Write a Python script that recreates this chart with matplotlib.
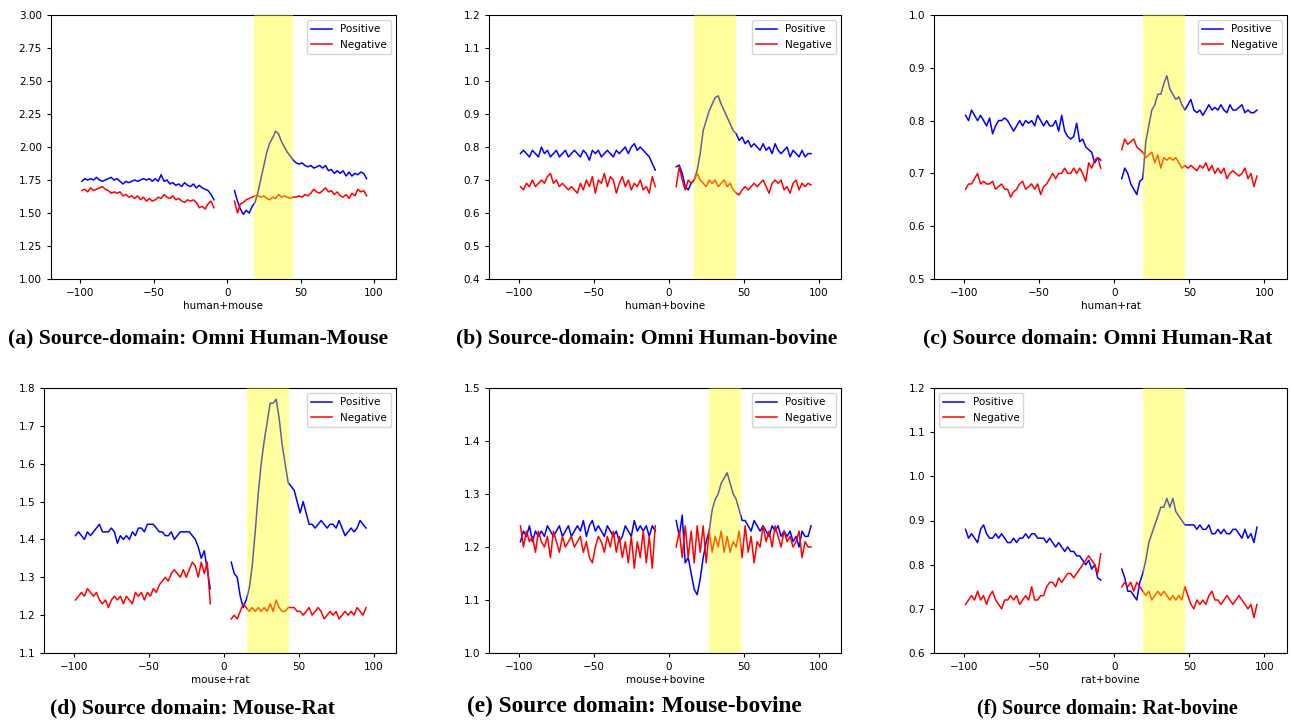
import matplotlib
matplotlib.use('Agg')
import matplotlib.pyplot as plt

# x positions (left and right flanks)
x_left = list(range(-99, -8, 2))
x_right = list(range(5, 96, 2))

# (a) human+mouse
a_pos_left = [1.74, 1.76, 1.75, 1.76, 1.75, 1.77, 1.75, 1.74, 1.75, 1.76, 1.77, 1.75, 1.76, 1.74, 1.72, 1.74,
              1.73, 1.74, 1.75, 1.74, 1.75, 1.76, 1.75, 1.76, 1.74, 1.76, 1.74, 1.79, 1.74, 1.75, 1.72, 1.73,
              1.71, 1.72, 1.70, 1.73, 1.71, 1.70, 1.72, 1.69, 1.71, 1.69, 1.68, 1.67, 1.64, 1.60]
a_neg_left = [1.67, 1.68, 1.66, 1.69, 1.67, 1.68, 1.69, 1.70, 1.68, 1.67, 1.65, 1.66, 1.65, 1.66, 1.63, 1.64,
              1.62, 1.63, 1.61, 1.63, 1.60, 1.62, 1.59, 1.61, 1.59, 1.60, 1.62, 1.61, 1.64, 1.62, 1.61, 1.63,
              1.60, 1.61, 1.59, 1.58, 1.60, 1.59, 1.60, 1.58, 1.54, 1.55, 1.53, 1.57, 1.59, 1.54]
a_pos_right = [1.67, 1.59, 1.53, 1.49, 1.52, 1.50, 1.55, 1.58, 1.66, 1.76, 1.86, 1.96, 2.03, 2.07, 2.12, 2.10,
               2.04, 2.00, 1.96, 1.93, 1.90, 1.88, 1.87, 1.88, 1.86, 1.85, 1.86, 1.84, 1.85, 1.86, 1.84, 1.86,
               1.82, 1.83, 1.80, 1.82, 1.80, 1.82, 1.78, 1.81, 1.78, 1.80, 1.79, 1.81, 1.80, 1.76]
a_neg_right = [1.59, 1.50, 1.57, 1.58, 1.60, 1.61, 1.62, 1.63, 1.63, 1.62, 1.63, 1.61, 1.60, 1.62, 1.61, 1.64,
               1.62, 1.63, 1.62, 1.61, 1.62, 1.62, 1.63, 1.62, 1.64, 1.63, 1.65, 1.68, 1.66, 1.65, 1.67, 1.69,
               1.66, 1.67, 1.64, 1.66, 1.63, 1.62, 1.64, 1.61, 1.65, 1.63, 1.68, 1.66, 1.67, 1.63]

# (b) human+bovine
b_pos_left = [0.78, 0.79, 0.78, 0.77, 0.79, 0.78, 0.77, 0.80, 0.78, 0.79, 0.77, 0.78, 0.79, 0.77, 0.78, 0.79,
              0.77, 0.78, 0.79, 0.78, 0.77, 0.79, 0.78, 0.76, 0.79, 0.78, 0.79, 0.77, 0.78, 0.79, 0.78, 0.77,
              0.79, 0.78, 0.79, 0.80, 0.78, 0.80, 0.81, 0.79, 0.80, 0.79, 0.78, 0.77, 0.75, 0.73]
b_neg_left = [0.68, 0.67, 0.69, 0.68, 0.70, 0.68, 0.69, 0.70, 0.69, 0.71, 0.72, 0.69, 0.70, 0.68, 0.69, 0.68,
              0.67, 0.68, 0.67, 0.66, 0.69, 0.67, 0.70, 0.68, 0.71, 0.66, 0.70, 0.69, 0.72, 0.68, 0.71, 0.70,
              0.66, 0.69, 0.71, 0.68, 0.70, 0.67, 0.69, 0.68, 0.70, 0.67, 0.68, 0.66, 0.71, 0.68]
b_pos_right = [0.74, 0.745, 0.72, 0.68, 0.67, 0.69, 0.70, 0.73, 0.78, 0.85, 0.88, 0.91, 0.93, 0.95, 0.955, 0.93,
               0.91, 0.89, 0.87, 0.85, 0.84, 0.82, 0.83, 0.81, 0.82, 0.80, 0.81, 0.80, 0.79, 0.81, 0.79, 0.80,
               0.78, 0.81, 0.79, 0.78, 0.79, 0.80, 0.77, 0.79, 0.78, 0.77, 0.79, 0.77, 0.78, 0.78]
b_neg_right = [0.68, 0.74, 0.70, 0.67, 0.70, 0.69, 0.70, 0.72, 0.70, 0.69, 0.68, 0.70, 0.69, 0.70, 0.68, 0.69,
               0.70, 0.68, 0.69, 0.67, 0.66, 0.655, 0.67, 0.68, 0.67, 0.68, 0.69, 0.68, 0.69, 0.70, 0.68, 0.66,
               0.69, 0.70, 0.69, 0.70, 0.67, 0.68, 0.66, 0.69, 0.70, 0.67, 0.69, 0.68, 0.69, 0.685]

# (c) human+rat
c_pos_left = [0.81, 0.80, 0.82, 0.81, 0.80, 0.81, 0.80, 0.79, 0.805, 0.775, 0.79, 0.80, 0.80, 0.805, 0.80, 0.79,
              0.78, 0.79, 0.80, 0.79, 0.80, 0.795, 0.80, 0.79, 0.81, 0.80, 0.79, 0.80, 0.79, 0.79, 0.80, 0.78,
              0.81, 0.78, 0.77, 0.765, 0.77, 0.795, 0.76, 0.765, 0.75, 0.745, 0.74, 0.72, 0.73, 0.725]
c_neg_left = [0.67, 0.68, 0.68, 0.69, 0.70, 0.68, 0.685, 0.68, 0.68, 0.685, 0.67, 0.675, 0.68, 0.67, 0.67, 0.655,
              0.665, 0.67, 0.68, 0.685, 0.67, 0.675, 0.68, 0.67, 0.68, 0.66, 0.675, 0.68, 0.69, 0.70, 0.69,
              0.70, 0.70, 0.71, 0.70, 0.70, 0.71, 0.70, 0.71, 0.70, 0.685, 0.72, 0.71, 0.725, 0.73, 0.71]
c_pos_right = [0.69, 0.71, 0.70, 0.68, 0.67, 0.66, 0.685, 0.69, 0.76, 0.79, 0.82, 0.83, 0.85, 0.85, 0.87, 0.885,
               0.86, 0.85, 0.84, 0.845, 0.83, 0.82, 0.83, 0.84, 0.82, 0.815, 0.82, 0.81, 0.82, 0.83, 0.82, 0.825,
               0.82, 0.83, 0.82, 0.815, 0.83, 0.82, 0.82, 0.825, 0.83, 0.815, 0.82, 0.815, 0.815, 0.82]
c_neg_right = [0.745, 0.765, 0.755, 0.76, 0.765, 0.75, 0.745, 0.74, 0.73, 0.735, 0.74, 0.72, 0.735, 0.71, 0.73, 0.725,
               0.73, 0.725, 0.73, 0.72, 0.71, 0.715, 0.71, 0.715, 0.71, 0.705, 0.715, 0.71, 0.72, 0.705, 0.715, 0.70,
               0.71, 0.70, 0.71, 0.69, 0.70, 0.705, 0.70, 0.695, 0.70, 0.71, 0.69, 0.70, 0.675, 0.695]

# (d) mouse+rat
d_pos_left = [1.41, 1.42, 1.41, 1.40, 1.42, 1.41, 1.42, 1.43, 1.44, 1.42, 1.42, 1.42, 1.43, 1.42, 1.39, 1.41,
              1.40, 1.41, 1.40, 1.42, 1.41, 1.43, 1.43, 1.42, 1.44, 1.44, 1.44, 1.43, 1.42, 1.42, 1.41, 1.41,
              1.42, 1.40, 1.41, 1.42, 1.42, 1.42, 1.42, 1.41, 1.40, 1.38, 1.35, 1.37, 1.32, 1.27]
d_neg_left = [1.24, 1.25, 1.26, 1.25, 1.27, 1.26, 1.25, 1.26, 1.24, 1.23, 1.24, 1.22, 1.24, 1.25, 1.24, 1.25,
              1.23, 1.25, 1.24, 1.23, 1.26, 1.25, 1.26, 1.24, 1.26, 1.25, 1.27, 1.26, 1.28, 1.29, 1.30, 1.29,
              1.31, 1.32, 1.31, 1.30, 1.32, 1.30, 1.32, 1.34, 1.33, 1.30, 1.34, 1.31, 1.34, 1.23]
d_pos_right = [1.34, 1.31, 1.30, 1.25, 1.22, 1.24, 1.27, 1.33, 1.42, 1.52, 1.60, 1.66, 1.71, 1.76, 1.76, 1.77,
               1.72, 1.65, 1.60, 1.55, 1.54, 1.53, 1.50, 1.47, 1.50, 1.47, 1.44, 1.44, 1.43, 1.44, 1.45, 1.44,
               1.43, 1.44, 1.44, 1.43, 1.45, 1.43, 1.41, 1.42, 1.43, 1.42, 1.43, 1.45, 1.44, 1.43]
d_neg_right = [1.19, 1.20, 1.19, 1.21, 1.23, 1.22, 1.21, 1.22, 1.21, 1.22, 1.21, 1.22, 1.21, 1.23, 1.21, 1.24,
               1.22, 1.21, 1.21, 1.22, 1.22, 1.22, 1.21, 1.21, 1.20, 1.21, 1.22, 1.20, 1.21, 1.22, 1.21, 1.19,
               1.20, 1.21, 1.20, 1.21, 1.19, 1.20, 1.21, 1.20, 1.21, 1.20, 1.22, 1.21, 1.20, 1.22]

# (e) mouse+bovine
e_pos_left = [1.21, 1.23, 1.22, 1.24, 1.21, 1.23, 1.22, 1.23, 1.22, 1.24, 1.23, 1.22, 1.23, 1.24, 1.22, 1.23,
              1.24, 1.22, 1.23, 1.24, 1.23, 1.25, 1.22, 1.24, 1.25, 1.23, 1.24, 1.23, 1.22, 1.24, 1.23, 1.22,
              1.23, 1.21, 1.22, 1.24, 1.23, 1.22, 1.25, 1.23, 1.24, 1.23, 1.24, 1.22, 1.24, 1.23]
e_neg_left = [1.24, 1.20, 1.23, 1.21, 1.22, 1.19, 1.23, 1.21, 1.20, 1.22, 1.18, 1.23, 1.21, 1.19, 1.22, 1.20,
              1.21, 1.22, 1.20, 1.21, 1.22, 1.19, 1.21, 1.18, 1.17, 1.20, 1.22, 1.21, 1.19, 1.22, 1.20, 1.23,
              1.19, 1.22, 1.18, 1.21, 1.17, 1.22, 1.16, 1.21, 1.18, 1.23, 1.17, 1.22, 1.16, 1.24]
e_pos_right = [1.25, 1.22, 1.26, 1.17, 1.18, 1.15, 1.12, 1.11, 1.14, 1.18, 1.21, 1.23, 1.27, 1.29, 1.30, 1.32,
               1.33, 1.34, 1.32, 1.30, 1.29, 1.27, 1.25, 1.25, 1.24, 1.23, 1.25, 1.24, 1.23, 1.24, 1.23, 1.22,
               1.24, 1.23, 1.24, 1.22, 1.23, 1.22, 1.23, 1.21, 1.22, 1.20, 1.23, 1.22, 1.22, 1.24]
e_neg_right = [1.20, 1.23, 1.18, 1.24, 1.18, 1.23, 1.17, 1.24, 1.19, 1.24, 1.17, 1.23, 1.19, 1.22, 1.20, 1.23,
               1.19, 1.22, 1.19, 1.21, 1.20, 1.23, 1.18, 1.24, 1.19, 1.22, 1.17, 1.21, 1.20, 1.24, 1.21, 1.23,
               1.20, 1.24, 1.22, 1.20, 1.23, 1.21, 1.22, 1.20, 1.21, 1.23, 1.18, 1.21, 1.20, 1.20]

# (f) rat+bovine
f_pos_left = [0.88, 0.86, 0.87, 0.86, 0.85, 0.88, 0.89, 0.87, 0.86, 0.86, 0.87, 0.86, 0.87, 0.86, 0.85, 0.85,
              0.86, 0.85, 0.86, 0.86, 0.87, 0.86, 0.87, 0.87, 0.86, 0.86, 0.86, 0.85, 0.86, 0.85, 0.84, 0.85,
              0.84, 0.83, 0.84, 0.83, 0.83, 0.82, 0.82, 0.81, 0.80, 0.81, 0.79, 0.80, 0.77, 0.765]
f_neg_left = [0.71, 0.72, 0.73, 0.72, 0.74, 0.72, 0.73, 0.71, 0.73, 0.74, 0.72, 0.71, 0.70, 0.72, 0.72, 0.73,
              0.72, 0.73, 0.71, 0.72, 0.73, 0.72, 0.75, 0.72, 0.72, 0.73, 0.73, 0.75, 0.76, 0.76, 0.75, 0.77,
              0.76, 0.77, 0.78, 0.78, 0.77, 0.78, 0.79, 0.80, 0.81, 0.82, 0.81, 0.80, 0.78, 0.825]
f_pos_right = [0.79, 0.77, 0.74, 0.74, 0.73, 0.72, 0.76, 0.78, 0.81, 0.85, 0.87, 0.89, 0.91, 0.93, 0.93, 0.95,
               0.93, 0.95, 0.92, 0.91, 0.90, 0.89, 0.89, 0.89, 0.89, 0.88, 0.89, 0.88, 0.88, 0.89, 0.87, 0.87,
               0.88, 0.87, 0.88, 0.87, 0.87, 0.88, 0.88, 0.87, 0.86, 0.88, 0.86, 0.87, 0.85, 0.885]
f_neg_right = [0.75, 0.76, 0.75, 0.76, 0.74, 0.76, 0.75, 0.74, 0.73, 0.74, 0.72, 0.73, 0.74, 0.73, 0.74, 0.73,
               0.72, 0.73, 0.72, 0.73, 0.72, 0.75, 0.73, 0.71, 0.70, 0.72, 0.71, 0.72, 0.71, 0.73, 0.74, 0.72,
               0.72, 0.71, 0.72, 0.73, 0.72, 0.71, 0.72, 0.73, 0.72, 0.71, 0.70, 0.71, 0.68, 0.71]

xlabels = ['human+mouse', 'human+bovine', 'human+rat', 'mouse+rat', 'mouse+bovine', 'rat+bovine']
captions = ['(a) Source-domain: Omni Human-Mouse', '(b) Source-domain: Omni Human-bovine',
            '(c) Source domain: Omni Human-Rat', '(d) Source domain: Mouse-Rat',
            '(e) Source domain: Mouse-bovine', '(f) Source domain: Rat-bovine']
spans = [(18, 45), (17, 45), (19, 47), (15.5, 43.5), (27, 48), (19, 47)]
ylims = [(1.0, 3.0), (0.4, 1.2), (0.5, 1.0), (1.1, 1.8), (1.0, 1.5), (0.6, 1.2)]
ystep = [0.25, 0.1, 0.1, 0.1, 0.1, 0.1]

series = [
    (a_pos_left, a_neg_left, a_pos_right, a_neg_right),
    (b_pos_left, b_neg_left, b_pos_right, b_neg_right),
    (c_pos_left, c_neg_left, c_pos_right, c_neg_right),
    (d_pos_left, d_neg_left, d_pos_right, d_neg_right),
    (e_pos_left, e_neg_left, e_pos_right, e_neg_right),
    (f_pos_left, f_neg_left, f_pos_right, f_neg_right),
]

W, H = 1292, 724
# axes boxes in pixels: left, top, right, bottom
boxes = [(51, 15, 396, 279), (489, 15, 841, 279), (934, 15, 1287, 279),
         (44, 388, 396, 653), (489, 388, 841, 653), (934, 388, 1287, 653)]
caption_pos = [(198, 338), (647, 338), (1098, 338), (192, 708), (634, 706), (1107, 708)]
caption_size = [15.6, 15.6, 15.6, 15.6, 16.8, 14.5]

fig = plt.figure(figsize=(W / 100, H / 100), dpi=100)

for i in range(6):
    l, t, r, b = boxes[i]
    ax = fig.add_axes([l / W, 1 - b / H, (r - l) / W, (b - t) / H])
    pl, nl, pr, nr = series[i]
    ax.plot(x_left, pl, color='blue', lw=1.1, label='Positive')
    ax.plot(x_left, nl, color='red', lw=1.1, label='Negative')
    ax.plot(x_right, pr, color='blue', lw=1.1)
    ax.plot(x_right, nr, color='red', lw=1.1)
    ax.axvspan(spans[i][0], spans[i][1], color='yellow', alpha=0.38, lw=0, zorder=3)
    ax.set_xlim(-120, 115)
    ax.set_ylim(*ylims[i])
    lo, hi = ylims[i]
    n = int(round((hi - lo) / ystep[i]))
    ax.set_yticks([lo + k * ystep[i] for k in range(n + 1)])
    if ystep[i] == 0.25:
        ax.yaxis.set_major_formatter(matplotlib.ticker.FormatStrFormatter('%.2f'))
    else:
        ax.yaxis.set_major_formatter(matplotlib.ticker.FormatStrFormatter('%.1f'))
    ax.set_xticks([-100, -50, 0, 50, 100])
    ax.tick_params(labelsize=7.5, length=3)
    ax.set_xlabel(xlabels[i], fontsize=7.5, labelpad=2)
    ax.legend(loc='upper left' if i == 5 else 'upper right', fontsize=7.5)
    cx, cy = caption_pos[i]
    fig.text(cx / W, 1 - cy / H, captions[i], ha='center', va='center',
             family='Liberation Serif', weight='bold', fontsize=caption_size[i])

fig.savefig('out.png', dpi=100)
